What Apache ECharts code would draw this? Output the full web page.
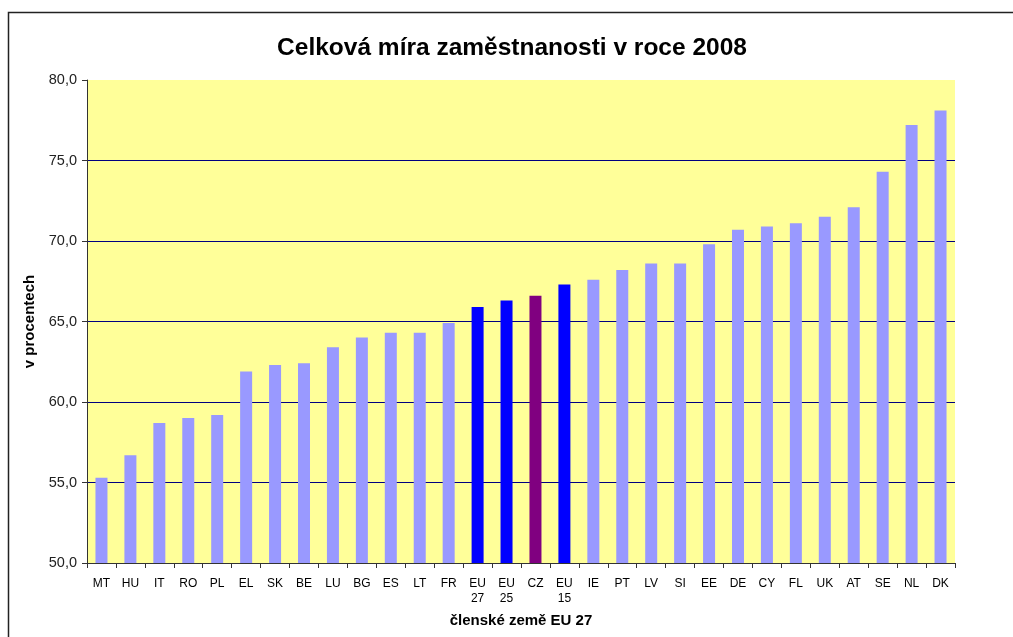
<!DOCTYPE html>
<html>
<head>
<meta charset="utf-8">
<script src="https://cdn.jsdelivr.net/npm/echarts@6/dist/echarts.min.js"></script>
<style>
  html, body { margin: 0; padding: 0; background: #fff; }
  #chart { width: 1013px; height: 637px; }
</style>
</head>
<body>
<div id="chart"></div>
<script>
// zeme a mira zamestnanosti 2008 (v %)
const categories = ['MT', 'HU', 'IT', 'RO', 'PL', 'EL', 'SK', 'BE', 'LU', 'BG', 'ES', 'LT', 'FR',
	'EU\n27', 'EU\n25', 'CZ', 'EU\n15', 'IE', 'PT', 'LV', 'SI', 'EE', 'DE', 'CY', 'FL', 'UK', 'AT', 'SE', 'NL', 'DK']
const values = [55.3, 56.7, 58.7, 59.0, 59.2, 61.9, 62.3, 62.4, 63.4, 64.0, 64.3, 64.3, 64.9,
	65.9, 66.3, 66.6, 67.3, 67.6, 68.2, 68.6, 68.6, 69.8, 70.7, 70.9, 71.1, 71.5, 72.1, 74.3, 77.2, 78.1]
const yTicks = [50, 55, 60, 65, 70, 75, 80]

const barColor = (name) => {
	if (name === 'CZ') return '#800080'
	if (name.startsWith('EU')) return '#0000FF'
	return '#9999FF'
}

const font = 'Arial, "Liberation Sans", sans-serif'
const chart = echarts.init(document.getElementById('chart'))

const option = {
	animation: false,
	textStyle: { fontFamily: font },
	title: {
		text: 'Celková míra zaměstnanosti v roce 2008',
		left: 507,
		top: 31,
		textAlign: 'center',
		textStyle: { fontSize: 24.5, fontWeight: 'bold', color: '#000', fontFamily: font },
	},
	graphic: [
		{
			type: 'rect',
			shape: { x: 8.5, y: 12.5, width: 1100, height: 700 },
			style: { fill: 'none', stroke: '#222', lineWidth: 1.5 },
			silent: true,
		},
	],
	grid: {
		left: 87,
		right: 58,
		top: 80,
		bottom: 74,
		show: true,
		backgroundColor: '#FFFF99',
		borderWidth: 0,
	},
	xAxis: {
		type: 'category',
		data: categories,
		name: 'členské země EU 27',
		nameLocation: 'middle',
		nameGap: 50,
		nameTextStyle: { fontSize: 15, fontWeight: 'bold', color: '#000', fontFamily: font },
		axisLine: { lineStyle: { color: '#333', width: 1 } },
		axisTick: { show: true, alignWithLabel: false, length: 5, lineStyle: { color: '#333' } },
		axisLabel: { fontSize: 12, color: '#000', margin: 13, lineHeight: 15, interval: 0, fontFamily: font },
	},
	yAxis: {
		type: 'value',
		min: yTicks[0],
		max: yTicks[yTicks.length - 1],
		interval: 5,
		name: 'v procentech',
		nameLocation: 'middle',
		nameGap: 50,
		nameTextStyle: { fontSize: 15, fontWeight: 'bold', color: '#000', fontFamily: font },
		axisLine: { show: true, lineStyle: { color: '#333', width: 1 } },
		axisTick: { show: true, length: 5, lineStyle: { color: '#333' } },
		axisLabel: {
			fontSize: 14.5,
			color: '#222',
			margin: 10,
			fontFamily: font,
			formatter: (v) => v.toFixed(1).replace('.', ','),
		},
		splitLine: {
			show: true,
			showMinLine: false,
			showMaxLine: false,
			lineStyle: { color: '#000080', width: 1 },
		},
	},
	series: [
		{
			type: 'bar',
			barWidth: 12,
			data: values.map((v, i) => ({
				value: v,
				itemStyle: { color: barColor(categories[i]) },
			})),
		},
	],
}

chart.setOption(option)
</script>
</body>
</html>
